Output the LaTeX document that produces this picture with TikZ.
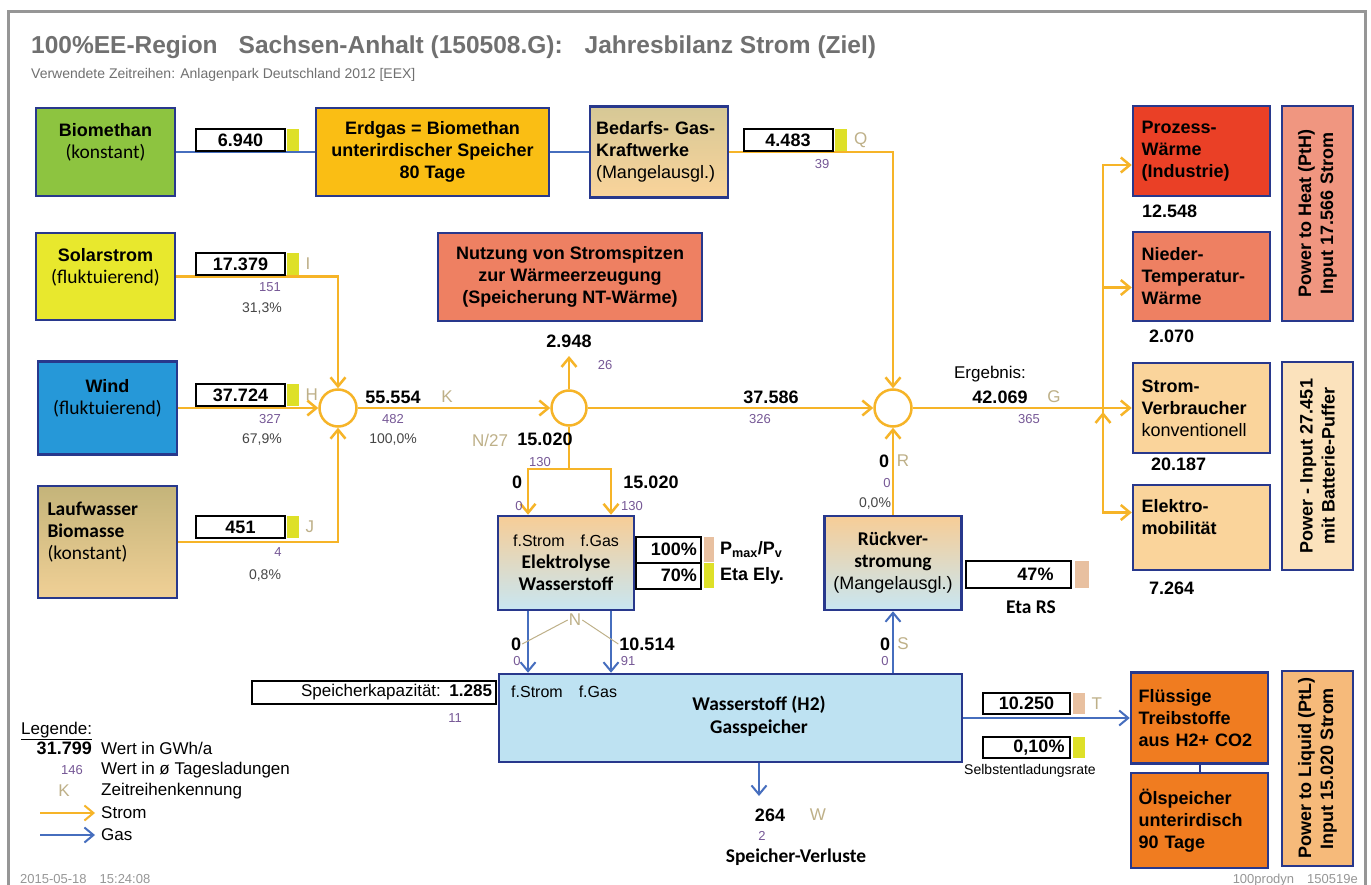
\documentclass[tikz,border=0pt]{standalone}
\usepackage{fontspec}
\setmainfont{Liberation Sans}
\newfontfamily\calfont[Scale=1.08]{Carlito}
\usetikzlibrary{arrows.meta,positioning}

\newcommand\fsz[2]{\fontsize{#1}{#2}\selectfont}

\definecolor{rim}{RGB}{40,56,140}
\definecolor{stromor}{RGB}{246,180,40}
\definecolor{gasbl}{RGB}{70,110,190}
\definecolor{biogreen}{RGB}{141,196,64}
\definecolor{solarye}{RGB}{232,232,45}
\definecolor{windbl}{RGB}{38,152,216}
\definecolor{laufdk}{RGB}{196,180,122}
\definecolor{lauflt}{RGB}{240,208,150}
\definecolor{erdor}{RGB}{250,190,20}
\definecolor{bedta}{RGB}{214,200,150}
\definecolor{salmon}{RGB}{238,128,98}
\definecolor{prored}{RGB}{234,64,38}
\definecolor{lighttan}{RGB}{250,212,155}
\definecolor{pthc}{RGB}{240,150,128}
\definecolor{pinc}{RGB}{251,226,188}
\definecolor{fluor}{RGB}{240,124,32}
\definecolor{ptlc}{RGB}{246,186,122}
\definecolor{h2bl}{RGB}{190,226,242}
\definecolor{elytop}{RGB}{247,205,150}
\definecolor{elybot}{RGB}{200,230,242}
\definecolor{ylw}{RGB}{222,224,40}
\definecolor{tanbar}{RGB}{232,192,160}
\definecolor{kennc}{RGB}{190,176,136}
\definecolor{daysc}{RGB}{118,88,150}
\definecolor{pctc}{RGB}{70,70,70}
\definecolor{titlec}{RGB}{112,112,112}
\definecolor{framec}{RGB}{150,150,150}

\tikzset{
  blk/.style={draw=rim, line width=2.5pt, font=\bfseries\fsz{18}{22}, align=center, inner sep=2pt},
  vbox/.style={draw=black, line width=2pt, fill=white, inner sep=0pt, minimum height=22, font=\bfseries\fsz{18}{20}},
  cbar/.style={fill=#1, minimum width=12, minimum height=22, inner sep=0pt},
  strom/.style={draw=stromor, line width=2.5pt},
  gas/.style={draw=gasbl, line width=2pt},
  hub/.style={circle, draw=stromor, line width=2.5pt, fill=white, minimum size=37, inner sep=0pt},
  arw/.style={-{Straight Barb[length=9pt,width=15pt]}},
  val/.style={font=\bfseries\fsz{18}{20}, inner sep=1pt},
  txt/.style={font=\fsz{17}{20}, inner sep=1pt},
  kenn/.style={text=kennc, font=\fsz{17}{20}, inner sep=1pt},
  days/.style={text=daysc, font=\fsz{13}{15}, inner sep=1pt},
  pct/.style={text=pctc, font=\fsz{14}{16}, inner sep=1pt},
}

\begin{document}
\begin{tikzpicture}[x=1pt,y=-1pt]
    \useasboundingbox (0,0) rectangle (1371,885);
    \fill[white] (0,0) rectangle (1371,885);
    \draw[framec, line width=3pt] (8,890) -- (8,12) -- (1365,12) -- (1365,890);

    \node[anchor=west, text=titlec, inner sep=0pt, font=\bfseries\fsz{24.5}{28}] (title) at (31,47)
        {100\%EE-Region\hspace{21pt}Sachsen-Anhalt (150508.G):\hspace{22pt}Jahresbilanz Strom (Ziel)};
    \node[anchor=west, text=titlec, inner sep=0pt, font=\fsz{14}{16}] (sub) at (31,75)
        {Verwendete Zeitreihen: Anlagenpark Deutschland 2012 [EEX]};

    % sources
    \node[blk, fill=biogreen, minimum width=139, minimum height=88] (bio) at (105.5,152)
        {Biomethan\\{\calfont\mdseries (konstant)}\\~};
    \node[blk, fill=solarye, minimum width=139, minimum height=87] (sol) at (105.5,276.5)
        {Solarstrom\\{\calfont\mdseries (fluktuierend)}\\~};
    \node[blk, fill=windbl, minimum width=139, minimum height=93] (wind) at (107.5,408)
        {Wind\\{\calfont\mdseries (fluktuierend)}\\~};
    \node[blk, top color=laufdk, bottom color=lauflt, minimum width=139, minimum height=112,
          text width=120, align=left, font=\calfont\bfseries\fsz{18}{22}] (lauf) at (107.5,542)
        {Laufwasser\\Biomasse\\{\mdseries (konstant)}\\~};

    % gas storage and gas plants
    \node[blk, fill=erdor, minimum width=233, minimum height=88] (erd) at (432.5,152)
        {Erdgas = Biomethan\\unterirdischer Speicher\\80 Tage};
    \node[blk, top color=bedta, bottom color=lighttan, minimum width=138, minimum height=91,
          text width=126, align=left, inner sep=1pt] (bed) at (659,152)
        {Bedarfs- Gas-\\Kraftwerke\\{\mdseries (Mangelausgl.)}};
    \node[blk, fill=salmon, minimum width=264, minimum height=88] (nutz) at (570,277)
        {Nutzung von Stromspitzen\\zur W\"armeerzeugung\\(Speicherung NT-W\"arme)};

    % hydrogen path
    \node[blk, top color=elytop, bottom color=elybot, minimum width=136, minimum height=94] (ely) at (566,563)
        {{\mdseries\fsz{16}{20}f.Strom\quad f.Gas}\\{\calfont Elektrolyse}\\{\calfont Wasserstoff}};
    \node[blk, top color=elytop, bottom color=elybot, minimum width=137, minimum height=94] (rue) at (893,563)
        {{\calfont R\"uckver-}\\{\calfont stromung}\\{\mdseries (Mangelausgl.)}};
    \node[blk, fill=h2bl, minimum width=463, minimum height=88] (h2) at (730.5,718) {};
    \node[font=\calfont\bfseries\fsz{18}{23}, align=center, inner sep=0pt] (h2t) at (759,716)
        {Wasserstoff (H2)\\Gasspeicher};
    \node[txt, anchor=west, font=\fsz{16}{18}] (h2f) at (510,692) {f.Strom\quad f.Gas};

    % consumers
    \node[blk, fill=prored, minimum width=137, minimum height=90, text width=120, align=left] (pro) at (1201.5,151)
        {Prozess-\\W\"arme\\(Industrie)};
    \node[blk, fill=salmon, minimum width=137, minimum height=89, text width=120, align=left] (nie) at (1201.5,276.5)
        {Nieder-\\Temperatur-\\W\"arme};
    \node[blk, fill=lighttan, minimum width=137, minimum height=90, text width=120, align=left] (ver) at (1201.5,408)
        {Strom-\\Verbraucher\\{\mdseries konventionell}};
    \node[blk, fill=lighttan, minimum width=137, minimum height=85, text width=120, align=left] (elm) at (1201.5,527.5)
        {Elektro-\\mobilit\"at\\~};
    \node[blk, fill=fluor, minimum width=137, minimum height=91, text width=122, align=left, inner sep=1pt] (flu) at (1199.5,718)
        {Fl\"ussige\\Treibstoffe\\aus H2+ CO2};
    \node[blk, fill=fluor, minimum width=137, minimum height=95, text width=122, align=left, inner sep=1pt] (oel) at (1199.5,820.5)
        {\"Olspeicher\\unterirdisch\\90 Tage};
    \node[blk, rotate=90, fill=pthc, minimum width=215, minimum height=71] (pth) at (1317.5,213.5)
        {Power to Heat (PtH)\\Input 17.566 Strom};
    \node[blk, rotate=90, fill=pinc, minimum width=208, minimum height=71] (pin) at (1317.5,466)
        {Power - Input 27.451\\mit Batterie-Puffer};
    \node[blk, rotate=90, fill=ptlc, minimum width=195, minimum height=71] (ptl) at (1317.5,768.5)
        {Power to Liquid (PtL)\\Input 15.020 Strom};

    % junctions
    \node[hub] (c1) at (338,408) {};
    \node[hub, minimum size=35] (c2) at (569,408) {};
    \node[hub] (c3) at (893,408) {};
    \coordinate (heat) at (569,356);
    \coordinate (split) at (569,469);
    \coordinate (fs) at (528,0);
    \coordinate (fg) at (611,0);
    \coordinate (bus) at (1103,408);
    \coordinate (loss) at (759,796);

    % connectors
    \draw[gas] (bio) -- (erd);
    \draw[gas] (erd) -- (bed);
    \draw[strom, arw] (bed.east) -| (c3.north);
    \draw[strom, arw] (sol.east) -| (c1.north);
    \draw[strom, arw] (wind.east) -- (c1.west);
    \draw[strom, arw] (lauf.east) -| (c1.south);
    \draw[strom, arw] (c1) -- (c2);
    \draw[strom, arw] (c2) -- (c3);
    \draw[strom, arw] (c2.north) -- (heat);
    \draw[strom] (c2.south) -- (split);
    \draw[strom, arw] (split) -| (ely.north -| fs);
    \draw[strom, arw] (split) -| (ely.north -| fg);
    \draw[gas, arw] (ely.south -| fs) -- (h2.north -| fs);
    \draw[gas, arw] (ely.south -| fg) -- (h2.north -| fg);
    \draw[gas, arw] (h2.north -| rue) -- (rue.south);
    \draw[strom, arw] (rue.north) -- (c3.south);
    \draw[strom, arw] (c3) -- (ver);
    \draw[strom, arw] (bus) |- ([yshift=-14pt]pro.west);
    \draw[strom, arw] (bus) |- ([yshift=-11pt]nie.west);
    \draw[strom, arw] (bus) |- ([yshift=15pt]elm.west);
    \draw[strom, arw] ([yshift=15pt]elm.west -| bus) -- ([yshift=-4pt]bus);
    \draw[gas, arw] (h2) -- (flu);
    \draw[rim, line width=2pt] (flu) -- (oel);
    \draw[gas, arw] (h2.south -| loss) -- (loss);

    % values on the input lines
    \node[vbox, minimum width=89] (v1) at (240.5,140) {6.940};
    \node[cbar=ylw, right=1pt of v1] (v1b) {};
    \node[vbox, minimum width=89] (v2) at (240.5,264) {17.379};
    \node[cbar=ylw, right=1pt of v2] (v2b) {};
    \node[kenn, right=5pt of v2b] (v2k) {I};
    \node[days] (v2d) at (270,287) {151};
    \node[pct] (v2p) at (262,309) {31,3\%};
    \node[vbox, minimum width=89] (v3) at (240.5,395) {37.724};
    \node[cbar=ylw, right=1pt of v3] (v3b) {};
    \node[kenn, right=5pt of v3b] (v3k) {H};
    \node[days] (v3d) at (270,419) {327};
    \node[pct] (v3p) at (262,440) {67,9\%};
    \node[vbox, minimum width=89] (v4) at (240.5,527) {451};
    \node[cbar=ylw, right=1pt of v4] (v4b) {};
    \node[kenn, right=5pt of v4b] (v4k) {J};
    \node[days] (v4d) at (278,552) {4};
    \node[pct] (v4p) at (265,576) {0,8\%};
    \node[vbox, minimum width=89] (v5) at (788,140.5) {4.483};
    \node[cbar=ylw, right=1pt of v5] (v5b) {};
    \node[kenn, right=6pt of v5b] (v5k) {Q};
    \node[days] (v5d) at (822,164) {39};

    % flows
    \node[val] (sum) at (393,397) {55.554};
    \node[kenn] (sumk) at (447,397) {K};
    \node[days] (sumd) at (393,419) {482};
    \node[pct] (sump) at (393,440) {100,0\%};
    \node[val] (hv) at (569,341) {2.948};
    \node[days] (hd) at (605,365) {26};
    \node[val] (rest) at (771,397) {37.586};
    \node[days] (restd) at (760,419) {326};
    \node[kenn] (ek) at (490,440) {N/27};
    \node[val] (ev) at (545,439) {15.020};
    \node[days] (ed) at (540,462) {130};
    \node[val] (es0) at (517,482) {0};
    \node[days] (es0d) at (519,506) {0};
    \node[val] (eg0) at (651,482) {15.020};
    \node[days] (eg0d) at (632,506) {130};

    % electrolysis settings
    \node[vbox, minimum width=65, minimum height=26, text width=58, align=right, inner sep=3pt] (pm) at (668,549.5) {100\%};
    \node[vbox, minimum width=65, minimum height=26, text width=58, align=right, inner sep=3pt] (eta) at (668,575.5) {70\%};
    \node[cbar=tanbar, minimum width=10, minimum height=25, right=2pt of pm] (pmb) {};
    \node[cbar=ylw, minimum width=10, minimum height=25, right=2pt of eta] (etab) {};
    \node[val, right=5pt of pmb] (pml) {P\textsubscript{max}/P\textsubscript{v}};
    \node[val, right=5pt of etab] (etal) {Eta Ely.};

    % electrolysis output
    \node[val] (h0) at (516,644) {0};
    \node[days] (h0d) at (517,661) {0};
    \node[val] (h1) at (647,644) {10.514};
    \node[days] (h1d) at (628,661) {91};
    \node[kenn] (nlab) at (575,620) {N};
    \draw[kennc, line width=1pt] (nlab.west) -- (h0.east);
    \draw[kennc, line width=1pt] (nlab.east) -- (h1.west);

    \node[vbox, minimum width=244, minimum height=23, text width=236, align=right, inner sep=3pt,
          font=\fsz{17}{20}] (kap) at (374,692.5) {Speicherkapazit\"at: \textbf{1.285}};
    \node[days] (kapd) at (455,718) {11};

    \node[val] (lv) at (770,815) {264};
    \node[kenn] (lk) at (818,815) {W};
    \node[days] (ld) at (762,836) {2};
    \node[val, font=\calfont\bfseries\fsz{18}{20}] (lt) at (796,857) {Speicher-Verluste};

    % reconversion
    \node[val] (r0) at (884,461) {0};
    \node[kenn] (rk) at (903,461) {R};
    \node[days] (rd) at (887,483) {0};
    \node[pct] (rp) at (875,504) {0,0\%};
    \node[val] (s0) at (885,644) {0};
    \node[kenn] (sk) at (903,644) {S};
    \node[days] (sd) at (885,661) {0};
    \node[vbox, minimum width=105, minimum height=27, text width=70, align=right, inner sep=3pt] (rs) at (1018.5,574.5) {47\%};
    \node[cbar=tanbar, minimum width=14, minimum height=27, right=3pt of rs] (rsb) {};
    \node[val, font=\calfont\bfseries\fsz{18}{20}] (rsl) at (1031,607) {Eta RS};

    % result
    \node[txt] (erg) at (990,374) {Ergebnis:};
    \node[val] (ergv) at (1000,397) {42.069};
    \node[kenn] (ergk) at (1054,397) {G};
    \node[days] (ergd) at (1029,419) {365};
    \node[val, anchor=west] (prov) at (1141,211) {12.548};
    \node[val, anchor=west] (niev) at (1148,336) {2.070};
    \node[val, anchor=west] (verv) at (1150,464) {20.187};
    \node[val, anchor=west] (elmv) at (1148,588) {7.264};

    % liquid fuels
    \node[vbox, minimum width=87, minimum height=21] (pl) at (1026.5,703.5) {10.250};
    \node[cbar=tanbar, right=2pt of pl, minimum height=21] (plb) {};
    \node[kenn, right=5pt of plb] (plk) {T};
    \node[vbox, minimum width=87, minimum height=21, text width=76, align=right, inner sep=3pt] (sel) at (1026.5,747.5) {0,10\%};
    \node[cbar=ylw, right=2pt of sel, minimum height=21] (selb) {};
    \node[txt, font=\fsz{14}{16}] (sell) at (1030,771) {Selbstentladungsrate};

    % legend
    \node[txt, anchor=west] (leg) at (20,731) {\underline{Legende:}};
    \node[val, anchor=east] (legv) at (93,748) {31.799};
    \node[txt, anchor=west] (legvt) at (100,748) {Wert in GWh/a};
    \node[days] (legd) at (72,770) {146};
    \node[txt, anchor=west] (legdt) at (100,770) {Wert in ø Tagesladungen};
    \node[kenn] (legk) at (64,791) {K};
    \node[txt, anchor=west] (legkt) at (100,791) {Zeitreihenkennung};
    \node[txt, anchor=west] (legs) at (100,813) {Strom};
    \node[txt, anchor=west] (legg) at (100,835) {Gas};
    \coordinate (lsa) at (40,813);
    \coordinate (lga) at (40,835);
    \draw[strom, line width=2pt, arw] (lsa) -- ([xshift=-5pt]legs.west);
    \draw[gas, arw] (lga) -- ([xshift=-5pt]legg.west);

    \node[anchor=west, text=framec, font=\fsz{13}{15}, inner sep=0pt] (stamp) at (20,879) {2015-05-18\quad 15:24:08};
    \node[anchor=east, text=framec, font=\fsz{13}{15}, inner sep=0pt] (code) at (1358,880) {100prodyn\quad 150519e};
\end{tikzpicture}
\end{document}
